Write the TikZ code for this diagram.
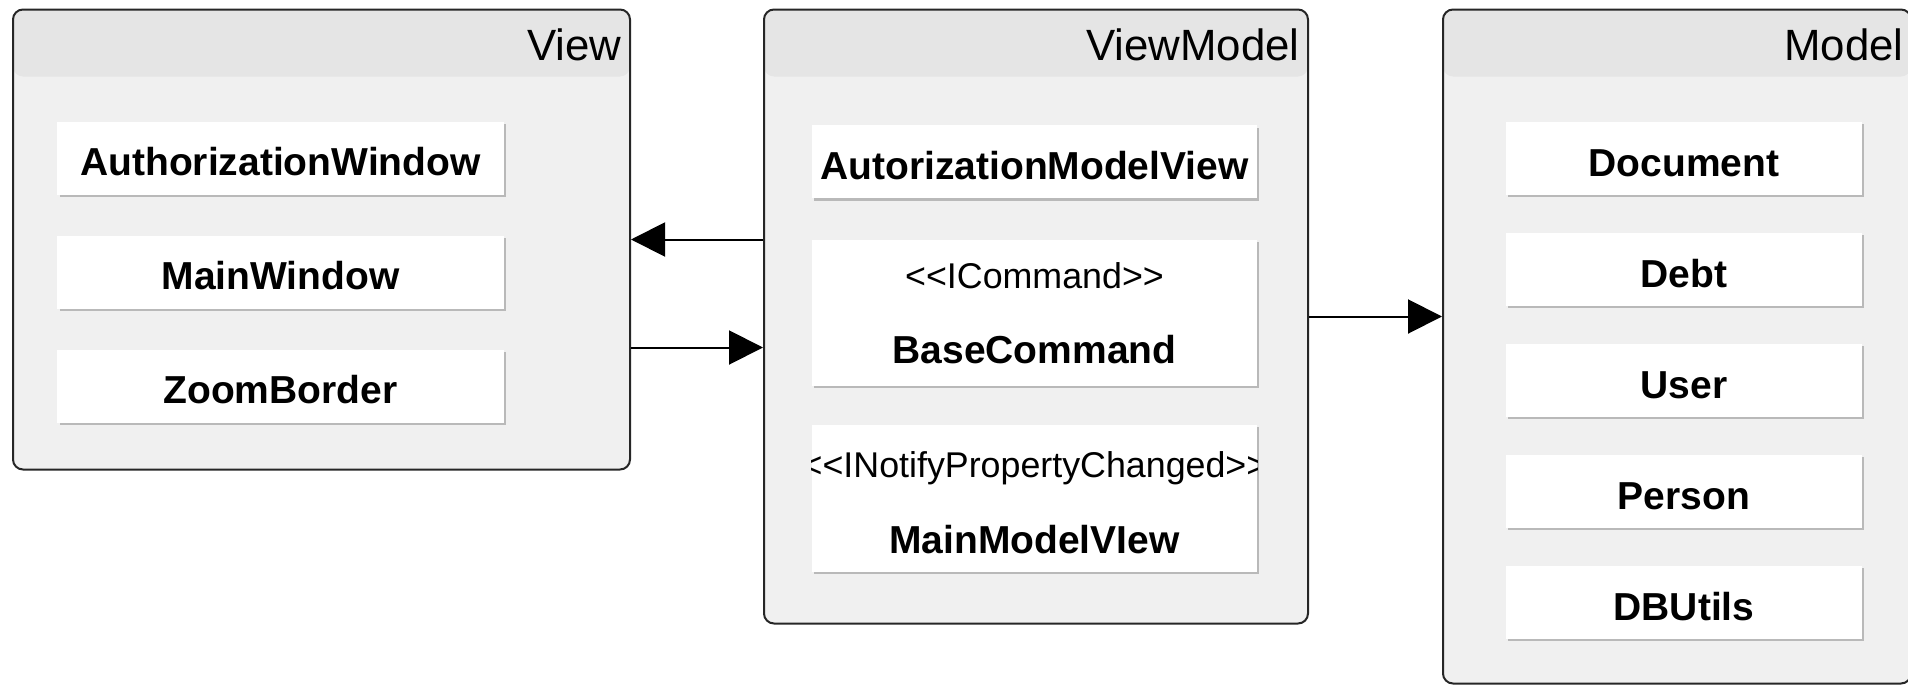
\documentclass[tikz,border=0pt]{standalone}
\usepackage{fontspec}
\setmainfont{Liberation Sans}
\usetikzlibrary{positioning,shadows,arrows.meta}
\newcommand{\clsfont}{\fontsize{19.5}{23}\selectfont\bfseries}
\tikzstyle{pkg}=[draw=black!85, line width=1pt, rounded corners=5pt, fill=gray!12, anchor=north west,
  path picture={\fill[gray!20] (path picture bounding box.north west) rectangle ([yshift=-33.5pt]path picture bounding box.north east);}]
\tikzstyle{pkglbl}=[anchor=east, inner sep=0pt, font=\fontsize{21.9}{26}\selectfont]
\tikzstyle{cls}=[fill=white, minimum height=36.5pt, inner sep=0pt, font=\clsfont, text height=17.6pt, text depth=0pt,
  drop shadow={shadow xshift=1.2pt, shadow yshift=-1.2pt, fill=gray!55, opacity=1}]
\tikzstyle{clsname}=[inner sep=0pt, font=\clsfont]
\tikzstyle{stereo}=[inner sep=0pt, font=\fontsize{17.9}{21}\selectfont]
\tikzstyle{arr}=[-{Triangle[length=17pt,width=17pt]}, line width=1pt]
\begin{document}
\begin{tikzpicture}[x=1pt,y=-1pt]
\useasboundingbox (0,0) rectangle (954,342.5);
% packages
\node[pkg, minimum width=308.5pt, minimum height=230pt] (view) at (6,4.25) {};
\node[pkg, minimum width=272pt, minimum height=307pt] (vm) at (381.5,4.25) {};
\node[pkg, minimum width=234pt, minimum height=337pt] (model) at (721,4.25) {};
\node[pkglbl] (viewlbl) at ([xshift=-4.5pt,yshift=-18.25pt]view.north east) {View};
\node[pkglbl] (vmlbl) at ([xshift=-4.5pt,yshift=-18.25pt]vm.north east) {ViewModel};
\node[pkglbl] (modellbl) at ([xshift=-4pt,yshift=-18.25pt]model.north east) {Model};

% View
\node[cls, minimum width=223.3pt] (authwin) at (140.25,79) {AuthorizationWindow};
\node[cls, minimum width=223.3pt, below of = authwin, node distance = 57pt] (mainwin) {MainWindow};
\node[cls, minimum width=223.3pt, below of = mainwin, node distance = 57pt] (zoomb) {ZoomBorder};

% ViewModel
\node[cls, minimum width=222.5pt] (authvm) at (517.25,80.8) {AutorizationModelView};
\node[cls, minimum width=222.5pt, minimum height=73pt, below of = authvm, node distance = 75.7pt] (basecmd) {};
\node[stereo, above of = basecmd, node distance = 18.8pt] (icmd) {<{}<ICommand>{}>};
\node[clsname, below of = basecmd, node distance = 18.2pt] (basecmdname) {BaseCommand};
\node[cls, minimum width=222.5pt, minimum height=73.5pt, below of = basecmd, node distance = 92.5pt] (mmv) {};
\begin{scope}
\clip (mmv.south west) rectangle (mmv.north east);
\node[stereo, above of = mmv, node distance = 14.8pt] (inotify) {<{}<INotifyPropertyChanged>{}>};
\end{scope}
\node[clsname, below of = mmv, node distance = 21pt] (mmvname) {MainModelVIew};

% Model
\node[cls, minimum width=178pt] (doc) at (842,79.25) {Document};
\node[cls, minimum width=178pt, below of = doc, node distance = 55.5pt] (debt) {Debt};
\node[cls, minimum width=178pt, below of = debt, node distance = 55.5pt] (user) {User};
\node[cls, minimum width=178pt, below of = user, node distance = 55.5pt] (person) {Person};
\node[cls, minimum width=178pt, below of = person, node distance = 55.5pt] (dbutils) {DBUtils};

% links
\coordinate (v2m) at ([yshift=-54pt]view.east);
\draw[arr] (vm.west |- view.east) -- (view.east);
\draw[arr] (v2m) -- (v2m -| vm.west);
\draw[arr] (vm.east) -- (vm.east -| model.west);
\end{tikzpicture}
\end{document}
